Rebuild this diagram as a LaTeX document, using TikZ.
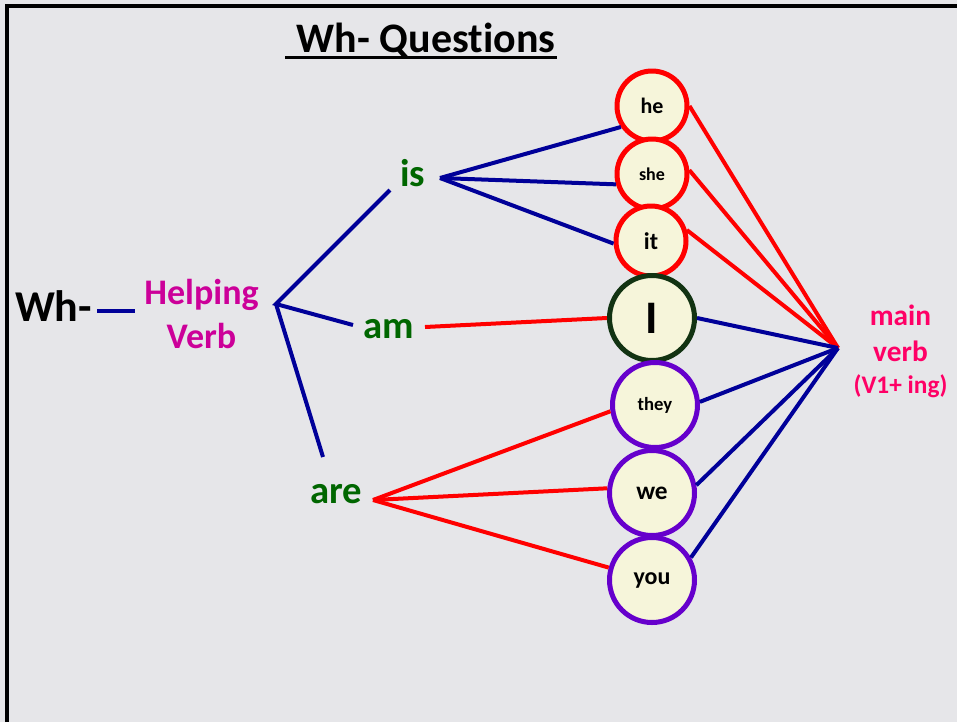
\documentclass[tikz,border=0pt]{standalone}
\usepackage{fontspec}
\setmainfont{Carlito}[Ligatures={NoCommon}]
\definecolor{marble}{HTML}{E6E6E9}
\definecolor{lineblue}{HTML}{000099}
\definecolor{wordgreen}{HTML}{006600}
\definecolor{helpmag}{HTML}{CC0099}
\definecolor{mainpink}{HTML}{FF0066}
\definecolor{cream}{HTML}{F6F5DA}
\definecolor{darkring}{HTML}{123312}
\definecolor{purplering}{HTML}{6600CC}
\begin{document}
\begin{tikzpicture}[x=0.75pt,y=-0.75pt,
  lbl/.style={font=\bfseries, inner sep=0pt, anchor=base},
  green/.style={lbl, text=wordgreen, font=\bfseries\fontsize{29}{34}\selectfont},
  pron/.style={circle, draw, fill=cream, line width=3.75pt, inner sep=0pt, text=black},
  smallring/.style={pron, draw=red, minimum size=52.5pt},
  bigring/.style={pron, minimum size=63.75pt},
  bl/.style={draw=lineblue, line width=3pt},
  rd/.style={draw=red, line width=3pt}]
\useasboundingbox (0,0) rectangle (957,722);
\fill[marble] (0,0) rectangle (957,722);
\draw[line width=2.4pt] (7,722) -- (7,6) -- (957,6);

% title
\node[lbl, font=\bfseries\fontsize{31.5}{36}\selectfont] (title) at (426,52) {Wh- Questions};
\draw[line width=2pt] (285,57.5) -- (557,57.5);

% left labels
\node[lbl, font=\bfseries\fontsize{33}{38}\selectfont] (wh) at (53.5,321) {Wh-};
\node[lbl, text=helpmag, font=\bfseries\fontsize{27}{32.5}\selectfont, align=center] (hv) at (201.5,348) {Helping\\Verb};
\node[green] (is) at (412.5,186) {is};
\node[green] (am) at (389,338) {am};
\node[green] (are) at (336.5,503) {are};

% coordinates for connector ends
\coordinate (whR) at (97,311);
\coordinate (hvL) at (135,311);
\coordinate (hub) at (276,304);
\coordinate (isW) at (390,190);
\coordinate (amW) at (353,325);
\coordinate (areN) at (323,457);
\coordinate (isR) at (440,178);
\coordinate (amR) at (425,327);
\coordinate (areR) at (373,500);
\coordinate (mv) at (838,348);

% pronoun circles
\node[smallring, font=\bfseries\fontsize{16.5}{20}\selectfont] (he) at (652,106) {he};
\node[smallring, font=\bfseries\fontsize{13.5}{16}\selectfont] (she) at (652,174) {she};
\node[smallring, font=\bfseries\fontsize{18}{22}\selectfont] (it) at (651,241) {it};
\node[bigring, draw=darkring, font=\bfseries\fontsize{35}{40}\selectfont] (I) at (652,318) {I};
\node[bigring, draw=purplering, font=\bfseries\fontsize{14}{17}\selectfont] (they) at (655,405) {they};
\node[bigring, draw=purplering, font=\bfseries\fontsize{19}{23}\selectfont] (we) at (652,493) {we};
\node[bigring, draw=purplering, font=\bfseries\fontsize{18}{22}\selectfont] (you) at (652,580) {you};

\node[lbl, text=mainpink, font=\bfseries\fontsize{22}{27.5}\selectfont, align=center] (main) at (900.5,393)
  {main\\verb\\[-4pt]{\fontsize{19}{22}\selectfont (V1+ ing)}};

% connectors
\draw[bl] (whR) -- (hvL);
\draw[bl] (isW) -- (hub) -- (amW);
\draw[bl] (hub) -- (areN);
\draw[bl] (isR) -- (he.214);
\draw[bl] (isR) -- (she.196);
\draw[bl] (isR) -- (it.184);
\draw[rd] (amR) -- (I.west);
\draw[rd] (areR) -- (they.188);
\draw[rd] (areR) -- (we.174);
\draw[rd] (areR) -- (you.164);
\draw[rd] (he.east) -- (mv);
\draw[rd] (she.6) -- (mv);
\draw[rd] (it.17) -- (mv);
\draw[bl] (I.east) -- (mv);
\draw[bl] (they.4) -- (mv);
\draw[bl] (we.10) -- (mv);
\draw[bl] (you.30) -- (mv);
\end{tikzpicture}
\end{document}
